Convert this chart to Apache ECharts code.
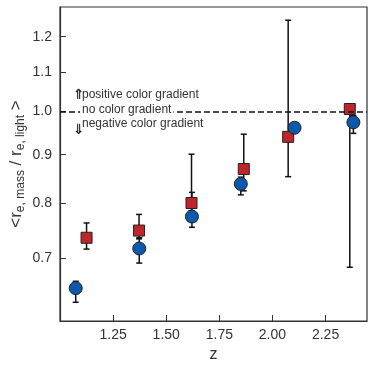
<!DOCTYPE html>
<html>
<head>
<meta charset="utf-8">
<script src="https://cdn.jsdelivr.net/npm/echarts@6/dist/echarts.min.js"></script>
<style>
  html, body {margin: 0; padding: 0; background: #fff;}
  #chart {width: 374px; height: 370px;}
</style>
</head>
<body>
<div id="chart"></div>
<script>
// blue circles
const zBlue = [1.074, 1.373, 1.621, 1.851, 2.104, 2.381];
const rBlue = [0.650, 0.716, 0.774, 0.838, 0.961, 0.974];
const blueLo = [0.628, 0.691, 0.754, 0.816, 0.955, 0.948];
const blueHi = [0.661, 0.735, 0.821, 0.852, 0.968, 0.990];
// red squares
const zRed = [1.125, 1.372, 1.619, 1.865, 2.074, 2.364];
const rRed = [0.735, 0.748, 0.800, 0.869, 0.940, 1.006];
const redLo = [0.715, 0.733, 0.785, 0.824, 0.853, 0.684];
const redHi = [0.762, 0.778, 0.901, 0.946, 1.249, 1.016];
// axes
const xTicks = [1.25, 1.50, 1.75, 2.00, 2.25];
const yTicks = [0.7, 0.8, 0.9, 1.0, 1.1, 1.2];
const refLine = 1.0;

const lg = v => Math.log10(v);
const font = '"Liberation Sans", Arial, sans-serif';
const blue = '#0a59ad';
const red = '#bf252b';

const errData = (zs, lo, hi) => zs.map((z, i) => [z, lg(lo[i]), lg(hi[i])]);

function errorBars(params, api) {
  const x = api.value(0);
  const a = api.coord([x, api.value(1)]);
  const b = api.coord([x, api.value(2)]);
  const w = 3;
  const st = {stroke: '#111', lineWidth: 1.5};
  return {
    type: 'group',
    children: [
      {type: 'line', shape: {x1: a[0], y1: a[1], x2: b[0], y2: b[1]}, style: st},
      {type: 'line', shape: {x1: a[0] - w, y1: a[1], x2: a[0] + w, y2: a[1]}, style: st},
      {type: 'line', shape: {x1: b[0] - w, y1: b[1], x2: b[0] + w, y2: b[1]}, style: st}
    ]
  };
}

const chart = echarts.init(document.getElementById('chart'));
chart.setOption({
  animation: false,
  textStyle: {fontFamily: font},
  grid: {left: 60, right: 7, top: 7, bottom: 49, outerBoundsMode: 'none', containLabel: false,
    show: true, borderColor: '#333', borderWidth: 1.2},
  xAxis: {
    type: 'value', min: 1.0, max: 2.445,
    name: 'z', nameLocation: 'middle', nameGap: 26,
    nameTextStyle: {fontSize: 16, color: '#333', fontFamily: font},
    axisLine: {onZero: false, lineStyle: {color: '#333', width: 1.2}},
    axisTick: {inside: true, length: 6, customValues: xTicks, lineStyle: {color: '#333'}},
    axisLabel: {customValues: xTicks, fontSize: 14, color: '#333', margin: 7,
      formatter: v => v.toFixed(2)},
    splitLine: {show: false}
  },
  yAxis: {
    type: 'value', min: lg(0.6), max: lg(1.29),
    name: '{n|<r}{s|e, mass}{n| / r}{s|e, light}{n| >}',
    nameLocation: 'middle', nameGap: 34, nameRotate: 90, nameMoveOverlap: false,
    nameTextStyle: {
      color: '#333',
      rich: {
        n: {fontSize: 17, color: '#333', fontFamily: font, lineHeight: 20},
        s: {fontSize: 12, color: '#333', fontFamily: font, lineHeight: 20, padding: [9, 0, 0, 0]}
      }
    },
    axisLine: {onZero: false, lineStyle: {color: '#333', width: 1.2}},
    axisTick: {inside: true, length: 6, customValues: yTicks.map(lg), lineStyle: {color: '#333'}},
    axisLabel: {customValues: yTicks.map(lg), fontSize: 14, color: '#333', margin: 8,
      formatter: v => Math.pow(10, v).toFixed(1)},
    splitLine: {show: false}
  },
  series: [
    {
      type: 'line', data: [], silent: true, z: 1,
      markLine: {
        silent: true, symbol: 'none', label: {show: false},
        lineStyle: {color: '#111', type: [6, 3], width: 1.5},
        data: [{yAxis: lg(refLine)}]
      }
    },
    {type: 'custom', renderItem: errorBars, data: errData(zRed, redLo, redHi), encode: {x: 0, y: [1, 2]}, z: 2},
    {type: 'custom', renderItem: errorBars, data: errData(zBlue, blueLo, blueHi), encode: {x: 0, y: [1, 2]}, z: 2},
    {
      type: 'scatter', symbol: 'rect', symbolSize: 11, z: 3,
      itemStyle: {color: red, borderColor: '#222', borderWidth: 1, opacity: 1},
      data: zRed.map((z, i) => [z, lg(rRed[i])])
    },
    {
      type: 'scatter', symbol: 'circle', symbolSize: 13, z: 4,
      itemStyle: {color: blue, borderColor: '#222', borderWidth: 1, opacity: 1},
      data: zBlue.map((z, i) => [z, lg(rBlue[i])])
    }
  ],
  graphic: [
    {type: 'text', left: 73, top: 88, z: 10,
      style: {text: '⇑', font: 'bold 14px "DejaVu Sans"', fill: '#222'}},
    {type: 'text', left: 82, top: 89, z: 10,
      style: {text: 'positive color gradient', font: '12px ' + font, fill: '#333'}},
    {type: 'text', left: 80, top: 104, z: 10,
      style: {text: 'no color gradient', font: '12px ' + font, fill: '#333',
        backgroundColor: '#fff', padding: [0, 2]}},
    {type: 'text', left: 82, top: 118, z: 10,
      style: {text: 'negative color gradient', font: '12px ' + font, fill: '#333'}},
    {type: 'text', left: 73, top: 123, z: 10,
      style: {text: '⇓', font: 'bold 14px "DejaVu Sans"', fill: '#222'}}
  ]
});
</script>
</body>
</html>
